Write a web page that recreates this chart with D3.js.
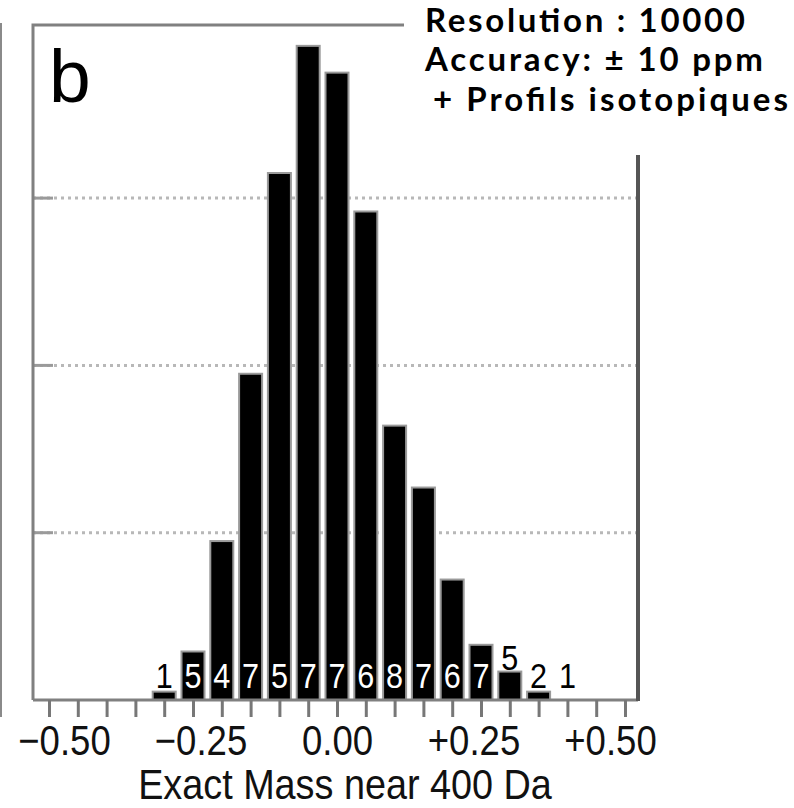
<!DOCTYPE html>
<html>
<head>
<meta charset="utf-8">
<script src="https://cdn.jsdelivr.net/npm/d3@7"></script>
<style>
  html, body { margin: 0; padding: 0; background: #fff; }
  svg { display: block; }
</style>
</head>
<body>
<svg id="chart" width="794" height="808"></svg>
<script>
// Histogram of exact-mass deviations near 400 Da (panel b)
const binCenters = [-0.30, -0.25, -0.20, -0.15, -0.10, -0.05, 0.00, 0.05, 0.10, 0.15, 0.20, 0.25, 0.30, 0.35, 0.40];
const binValues  = [0.5, 2.9, 9.5, 19.5, 31.5, 39.1, 37.5, 29.2, 16.4, 12.7, 7.2, 3.3, 1.7, 0.5, 0];
const binLabels  = ["1", "5", "4", "7", "5", "7", "7", "6", "8", "7", "6", "7", "5", "2", "1"];

const minorTicks = [-0.50, -0.45, -0.40, -0.35, -0.30, -0.25, -0.20, -0.15, -0.10, -0.05, 0.00,
                    0.05, 0.10, 0.15, 0.20, 0.25, 0.30, 0.35, 0.40, 0.45, 0.50];
const labelValues = [-0.50, -0.25, 0.00, 0.25, 0.50];
const labelTexts  = ["\u22120.50", "\u22120.25", "0.00", "+0.25", "+0.50"];
const gridValues  = [10, 20, 30];

const panelLetter = "b";
const axisTitle = "Exact Mass near 400 Da";
const noteLines = ["Resolution : 10000", "Accuracy: \u00b1 10 ppm", "+ Profils isotopiques"];

const svg = d3.select("#chart");

// plot frame geometry
const frame = { left: 33, right: 638, top: 25, bottom: 700 };

const x = d3.scaleLinear().domain([-0.5, 0.5]).range([49, 625]);
const xLabel = d3.scaleLinear().domain([-0.5, 0.5]).range([64, 610]);
const y = d3.scaleLinear().domain([0, 40]).range([frame.bottom, frame.bottom - 40 * 16.73]);

const barW = 23;

// neighbouring panel edge
svg.append("line")
  .attr("x1", 1).attr("x2", 1).attr("y1", 23).attr("y2", 717)
  .attr("stroke", "#8a8a8a").attr("stroke-width", 2);

// dotted gridlines
svg.append("g").selectAll("line").data(gridValues).join("line")
  .attr("x1", frame.left).attr("x2", frame.right)
  .attr("y1", d => y(d)).attr("y2", d => y(d))
  .attr("stroke", "#b8b8b8").attr("stroke-width", 3)
  .attr("stroke-dasharray", "3,4");

// short inward ticks on the left edge
svg.append("g").selectAll("line").data(gridValues).join("line")
  .attr("x1", frame.left).attr("x2", frame.left + 20)
  .attr("y1", d => y(d)).attr("y2", d => y(d))
  .attr("stroke", "#9a9a9a").attr("stroke-width", 3);

// bars
svg.append("g").selectAll("rect").data(binValues).join("rect")
  .attr("x", (d, i) => x(binCenters[i]) - barW / 2)
  .attr("y", d => y(d))
  .attr("width", barW)
  .attr("height", d => y(0) - y(d))
  .attr("fill", "#000")
  .attr("stroke", d => d > 0 ? "#9a9a9a" : "none")
  .attr("stroke-width", 2);

// bin count labels: inside the bar foot when it fits, otherwise just above the bar
const labelBase = 688;
const labelRoom = 28;
const fitsInside = v => y(v) < labelBase - labelRoom;
svg.append("g").selectAll("text").data(binLabels).join("text")
  .attr("transform", (d, i) => {
    const v = binValues[i];
    const by = fitsInside(v) ? labelBase : Math.min(labelBase, y(v) - 2);
    return `translate(${x(binCenters[i])},${by}) scale(0.85,1)`;
  })
  .attr("text-anchor", "middle")
  .attr("font-family", "Liberation Sans, Arial, sans-serif")
  .attr("font-size", 36)
  .attr("fill", (d, i) => (fitsInside(binValues[i]) ? "#fff" : "#000"))
  .text(d => d);

// frame
svg.append("path")
  .attr("d", `M${frame.left},${frame.bottom} V${frame.top} H404`)
  .attr("fill", "none").attr("stroke", "#808080").attr("stroke-width", 3);
svg.append("line")
  .attr("x1", frame.left).attr("x2", frame.right)
  .attr("y1", frame.bottom).attr("y2", frame.bottom)
  .attr("stroke", "#808080").attr("stroke-width", 3);
svg.append("line")
  .attr("x1", frame.right).attr("x2", frame.right)
  .attr("y1", 155).attr("y2", frame.bottom + 1)
  .attr("stroke", "#555").attr("stroke-width", 4);

// x tick marks
const tickAxis = d3.axisBottom(x).tickValues(minorTicks).tickSize(17).tickFormat("");
const gTicks = svg.append("g").attr("transform", `translate(0,${frame.bottom})`).call(tickAxis);
gTicks.select(".domain").remove();
gTicks.selectAll(".tick line").attr("stroke", "#777").attr("stroke-width", 3);

// x tick labels
const labelAxis = d3.axisBottom(xLabel).tickValues(labelValues).tickSize(0)
  .tickFormat((d, i) => labelTexts[i]);
const gLabels = svg.append("g").attr("transform", `translate(0,${frame.bottom})`).call(labelAxis);
gLabels.select(".domain").remove();
gLabels.selectAll(".tick text")
  .attr("y", 55).attr("dy", 0)
  .attr("transform", "scale(0.87,1)")
  .attr("font-family", "Liberation Sans, Arial, sans-serif")
  .attr("font-size", 42)
  .attr("fill", "#111");

// axis title
svg.append("text")
  .attr("transform", "translate(345,799) scale(0.9,1)")
  .attr("text-anchor", "middle")
  .attr("font-family", "Liberation Sans, Arial, sans-serif")
  .attr("font-size", 42)
  .attr("fill", "#111")
  .text(axisTitle);

// panel letter
svg.append("text")
  .attr("x", 49).attr("y", 102)
  .attr("font-family", "Liberation Sans, Arial, sans-serif")
  .attr("font-size", 75)
  .attr("fill", "#000")
  .text(panelLetter);

// annotation block
const notePos = [{ x: 425, y: 32, w: 320 }, { x: 425, y: 71, w: 338 }, { x: 433, y: 111, w: 355 }];
svg.append("g").selectAll("text").data(noteLines).join("text")
  .attr("x", (d, i) => notePos[i].x)
  .attr("y", (d, i) => notePos[i].y)
  .attr("textLength", (d, i) => notePos[i].w)
  .attr("lengthAdjust", "spacing")
  .attr("font-family", "Lato, 'Open Sans', sans-serif")
  .attr("font-weight", "bold")
  .attr("font-size", 33)
  .attr("fill", "#000")
  .text(d => d);
</script>
</body>
</html>
